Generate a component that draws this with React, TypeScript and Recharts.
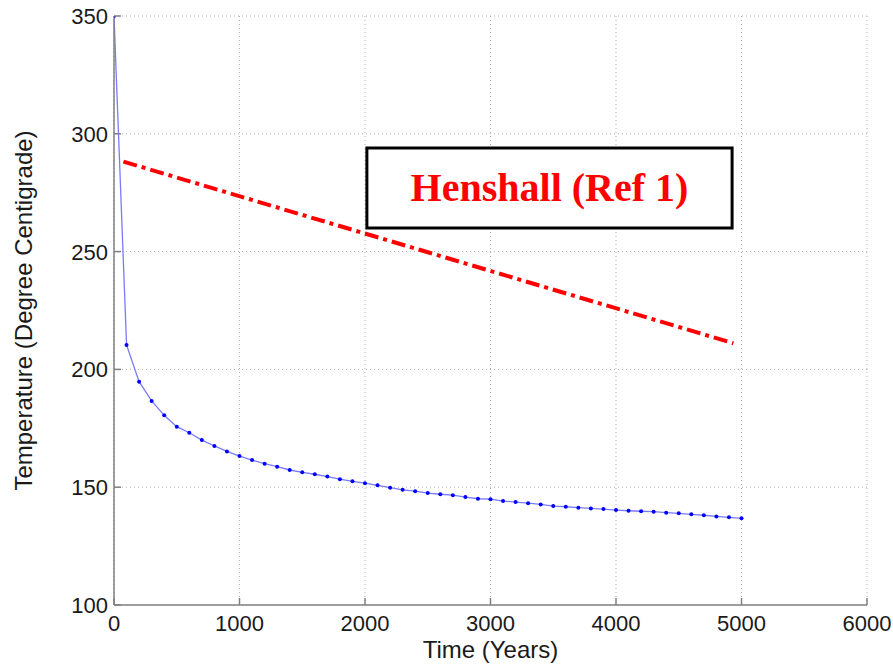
import React from 'react';
import { LineChart, Line, XAxis, YAxis, CartesianGrid, ReferenceArea } from 'recharts';

// model curve, sampled every 100 years
const years = [
  0, 100, 200, 300, 400, 500, 600, 700, 800, 900,
  1000, 1100, 1200, 1300, 1400, 1500, 1600, 1700, 1800, 1900,
  2000, 2100, 2200, 2300, 2400, 2500, 2600, 2700, 2800, 2900,
  3000, 3100, 3200, 3300, 3400, 3500, 3600, 3700, 3800, 3900,
  4000, 4100, 4200, 4300, 4400, 4500, 4600, 4700, 4800, 4900, 5000,
];
const temps = [
  350, 210.4, 194.8, 186.6, 180.5, 175.7, 173.1, 170.0, 167.5, 165.2,
  163.2, 161.5, 160.0, 158.7, 157.3, 156.3, 155.5, 154.5, 153.4, 152.5,
  151.7, 150.8, 149.8, 148.9, 148.3, 147.5, 147.0, 146.6, 145.8, 145.1,
  144.9, 144.1, 143.7, 143.2, 142.7, 142.0, 141.7, 141.3, 141.0, 140.7,
  140.3, 140.0, 139.8, 139.6, 139.2, 138.9, 138.5, 138.1, 137.6, 137.2, 136.8,
];

// Henshall (Ref 1) straight line
const henshallYears = [75, 4935];
const henshallTemps = [288.2, 211.1];

// annotation box corners (data units)
const boxYears = [2015, 4925];
const boxTemps = [260, 294];
const boxText = 'Henshall (Ref 1)';

const xTicks = [0, 1000, 2000, 3000, 4000, 5000, 6000];
const yTicks = [100, 150, 200, 250, 300, 350];

const modelData = years.map((t, i) => ({ time: t, temp: temps[i] }));
const henshallData = henshallYears.map((t, i) => ({ time: t, temp: henshallTemps[i] }));

const FONT = '"Liberation Sans", Arial, sans-serif';
const FRAME = '#808080';
const TICK = 7;

const LeftTick = (props: any) => {
  const { x, y, payload } = props;
  return (
    <g>
      <line x1={x} y1={y} x2={x + TICK} y2={y} stroke={FRAME} strokeWidth={1.5} />
      <text x={x - 6} y={y} dy="0.36em" textAnchor="end" fontSize={22} fontFamily={FONT} fill="#1a1a1a">
        {payload.value}
      </text>
    </g>
  );
};

const BottomTick = (props: any) => {
  const { x, y, payload } = props;
  return (
    <g>
      <line x1={x} y1={y} x2={x} y2={y - TICK} stroke={FRAME} strokeWidth={1.5} />
      <text x={x} y={y + 26} textAnchor="middle" fontSize={22} fontFamily={FONT} fill="#1a1a1a">
        {payload.value}
      </text>
    </g>
  );
};

const RightTick = (props: any) => {
  const { x, y } = props;
  return <line x1={x} y1={y} x2={x - TICK} y2={y} stroke={FRAME} strokeWidth={1.5} />;
};

const TopTick = (props: any) => {
  const { x, y } = props;
  return <line x1={x} y1={y} x2={x} y2={y + TICK} stroke={FRAME} strokeWidth={1.5} />;
};

const BoxLabel = (props: any) => {
  const vb = props.viewBox;
  return (
    <text
      x={vb.x + vb.width / 2}
      y={vb.y + vb.height / 2 + 13}
      textAnchor="middle"
      fontSize={40}
      fontWeight="bold"
      fontFamily='"Liberation Serif", "Times New Roman", serif'
      fill="#ff0000"
    >
      {boxText}
    </text>
  );
};

const App = () => {
  return (
    <div style={{ position: 'absolute', left: 0, top: 0, background: '#fff' }}>
      <LineChart width={893} height={666} margin={{ top: 16, right: 26, bottom: 0, left: 0 }}>
        <CartesianGrid stroke="#b0b0b0" strokeDasharray="1 3" />
        <XAxis
          dataKey="time"
          type="number"
          domain={[0, 6000]}
          ticks={xTicks}
          height={61}
          tickSize={0}
          tickMargin={0}
          axisLine={{ stroke: FRAME, strokeWidth: 1.5 }}
          tick={<BottomTick />}
          allowDataOverflow
          label={(p: any) => (
            <text
              x={p.viewBox.x + p.viewBox.width / 2}
              y={p.viewBox.y + 53}
              textAnchor="middle"
              fontSize={24}
              fontFamily={FONT}
              fill="#1a1a1a"
            >
              Time (Years)
            </text>
          )}
        />
        <XAxis
          xAxisId="top"
          orientation="top"
          type="number"
          domain={[0, 6000]}
          ticks={xTicks}
          height={0}
          tickSize={0}
          axisLine={{ stroke: FRAME, strokeWidth: 1.5 }}
          tick={<TopTick />}
        />
        <YAxis
          type="number"
          domain={[100, 350]}
          ticks={yTicks}
          width={114}
          tickSize={0}
          tickMargin={0}
          axisLine={{ stroke: FRAME, strokeWidth: 1.5 }}
          tick={<LeftTick />}
          allowDataOverflow
          label={(p: any) => {
            const cx = p.viewBox.x + 23;
            const cy = p.viewBox.y + p.viewBox.height / 2;
            return (
              <text
                x={cx}
                y={cy}
                transform={`rotate(-90 ${cx} ${cy})`}
                textAnchor="middle"
                dominantBaseline="central"
                fontSize={24}
                fontFamily={FONT}
                fill="#1a1a1a"
              >
                Temperature (Degree Centigrade)
              </text>
            );
          }}
        />
        <YAxis
          yAxisId="right"
          orientation="right"
          type="number"
          domain={[100, 350]}
          ticks={yTicks}
          width={0}
          tickSize={0}
          axisLine={{ stroke: FRAME, strokeWidth: 1.5 }}
          tick={<RightTick />}
        />
        <ReferenceArea
          x1={boxYears[0]}
          x2={boxYears[1]}
          y1={boxTemps[0]}
          y2={boxTemps[1]}
          fill="#ffffff"
          fillOpacity={1}
          stroke="#000000"
          strokeWidth={3}
          label={<BoxLabel />}
        />
        <Line
          data={henshallData}
          dataKey="temp"
          stroke="#ff0000"
          strokeWidth={4}
          strokeDasharray="14 5 4 5"
          dot={false}
          isAnimationActive={false}
        />
        <Line
          data={modelData}
          dataKey="temp"
          stroke="#7a7aff"
          strokeWidth={1.3}
          dot={{ r: 2, fill: '#0000ff', stroke: 'none' }}
          isAnimationActive={false}
        />
      </LineChart>
    </div>
  );
};

export default App;
